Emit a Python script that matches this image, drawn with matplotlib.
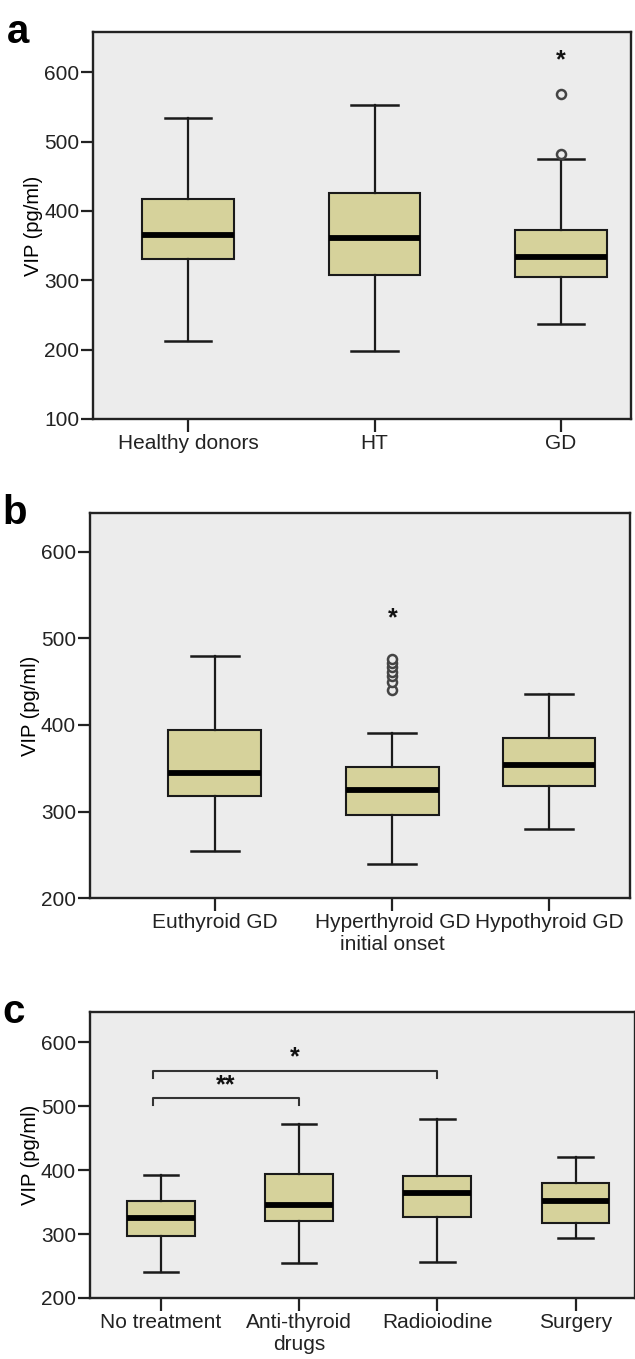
import matplotlib
matplotlib.use("Agg")
import matplotlib.pyplot as plt

plt.rcParams['font.family'] = ['Liberation Sans', 'DejaVu Sans']

# panel a: VIP by diagnosis
a_labels = ["Healthy donors", "HT", "GD"]
a_whislo = [212, 198, 237]
a_q1 = [331, 308, 304]
a_med = [365, 361, 334]
a_q3 = [417, 426, 373]
a_whishi = [534, 553, 475]
a_outliers = [[], [], [482, 568]]
a_extremes = [[], [], [617]]

# panel b: GD by thyroid function
b_labels = ["Euthyroid GD", "Hyperthyroid GD\ninitial onset", "Hypothyroid GD"]
b_whislo = [254, 239, 280]
b_q1 = [318, 296, 330]
b_med = [345, 325, 354]
b_q3 = [394, 352, 385]
b_whishi = [480, 391, 436]
b_outliers = [[], [441, 450, 457, 461, 467, 472, 476], []]
b_extremes = [[], [523], []]

# panel c: GD by treatment
c_labels = ["No treatment", "Anti-thyroid\ndrugs", "Radioiodine", "Surgery"]
c_whislo = [240, 255, 257, 294]
c_q1 = [297, 321, 326, 317]
c_med = [325, 345, 364, 352]
c_q3 = [352, 394, 390, 380]
c_whishi = [392, 472, 480, 420]
c_outliers = [[], [], [], []]
c_extremes = [[], [], [], []]
c_sig_from = [1, 1]
c_sig_to = [2, 3]
c_sig_text = ["**", "*"]
c_sig_y = [512, 555]

box_color = "#D6D29B"
bg_color = "#ECECEC"
line_color = "#1a1a1a"

fig = plt.figure(figsize=(6.35, 13.59), dpi=100)


def draw_panel(rect, labels, whislo, q1, med, q3, whishi, outliers, extremes,
               positions, xlim, ylim, yticks, width, capw, letter):
    ax = fig.add_axes(rect)
    stats = []
    for i in range(len(labels)):
        stats.append({
            "whislo": whislo[i], "q1": q1[i], "med": med[i], "q3": q3[i],
            "whishi": whishi[i], "fliers": outliers[i], "label": labels[i],
        })
    ax.bxp(stats, positions=positions, widths=width, capwidths=capw,
           patch_artist=True, showfliers=True,
           boxprops=dict(facecolor=box_color, edgecolor=line_color, linewidth=1.5),
           medianprops=dict(color="black", linewidth=4.2, solid_capstyle="butt"),
           whiskerprops=dict(color=line_color, linewidth=1.6),
           capprops=dict(color=line_color, linewidth=1.8),
           flierprops=dict(marker="o", markersize=6.5, markerfacecolor=bg_color,
                           markeredgecolor="#444444", markeredgewidth=1.8))
    for pos, ext in zip(positions, extremes):
        for v in ext:
            ax.text(pos, v, "*", ha="center", va="center", fontsize=18,
                    fontweight="bold", color="#111111")
    ax.set_facecolor(bg_color)
    ax.set_xlim(*xlim)
    ax.set_ylim(*ylim)
    ax.set_yticks(yticks)
    ax.set_xticks(positions)
    ax.set_xticklabels(labels, fontsize=15, linespacing=1.15)
    ax.tick_params(axis="y", labelsize=15, length=9, width=1.6, pad=1,
                   colors="#222222")
    ax.tick_params(axis="x", length=9, width=1.6, pad=2, colors="#222222")
    for s in ax.spines.values():
        s.set_linewidth(1.7)
        s.set_color("#222222")
    ax.set_ylabel("VIP (pg/ml)", fontsize=14.5, labelpad=1)
    ax.text(-0.14, 1.0, letter, transform=ax.transAxes, fontsize=29,
            fontweight="bold", ha="center", va="center")
    return ax


ax_a = draw_panel([0.1465, 0.6917, 0.8472, 0.2848], a_labels, a_whislo, a_q1,
                  a_med, a_q3, a_whishi, a_outliers, a_extremes,
                  [1, 2, 3], (0.49, 3.375), (100, 658),
                  [100, 200, 300, 400, 500, 600], 0.49, 0.25, "a")

ax_b = draw_panel([0.1417, 0.3392, 0.8504, 0.2833], b_labels, b_whislo, b_q1,
                  b_med, b_q3, b_whishi, b_outliers, b_extremes,
                  [1, 2, 2.88], (0.3, 3.335), (200, 645),
                  [200, 300, 400, 500, 600], 0.52, 0.27, "b")

ax_c = draw_panel([0.1417, 0.0449, 0.8583, 0.2104], c_labels, c_whislo, c_q1,
                  c_med, c_q3, c_whishi, c_outliers, c_extremes,
                  [1, 2, 3, 4], (0.487, 4.43), (200, 647),
                  [200, 300, 400, 500, 600], 0.49, 0.25, "c")

# significance brackets on panel c
for x0, x1, txt, y in zip(c_sig_from, c_sig_to, c_sig_text, c_sig_y):
    left = x0 - 0.06
    ax_c.plot([left, left, x1, x1], [y - 11, y, y, y - 11], color="#333333",
              linewidth=1.5)
    ax_c.text((left + x1) / 2, y + 2, txt, ha="center", va="bottom",
              fontsize=18, fontweight="bold", color="#111111")

fig.savefig("out.png", dpi=100)
